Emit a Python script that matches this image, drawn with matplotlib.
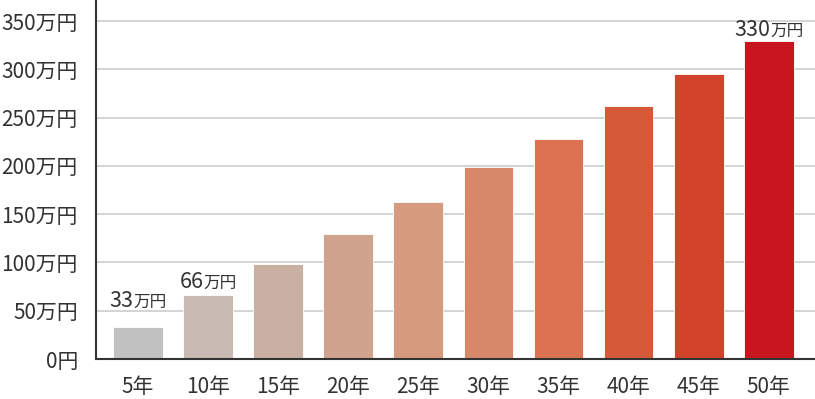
import matplotlib
matplotlib.use("Agg")
import matplotlib.pyplot as plt
import numpy as np

plt.rcParams['font.family'] = ['Noto Sans CJK JP', 'DejaVu Sans']

years = ['5年', '10年', '15年', '20年', '25年', '30年', '35年', '40年', '45年', '50年']
amounts = [33, 66, 98, 130, 163, 199, 228, 262, 295, 330]
colors = ['#c0c1c0', '#c8bbb3', '#cab0a2', '#cfa38d', '#d69a7e', '#d78868',
          '#db7352', '#d55a3a', '#d1432b', '#c8161e']
yticks = [0, 50, 100, 150, 200, 250, 300, 350]
ytick_labels = ['0円'] + ['%d万円' % v for v in yticks[1:]]

# bars that carry a value label: index -> (number text, offset in px)
labels = {0: ('33', 20), 1: ('66', 7), 9: ('330', 5)}

fig = plt.figure(figsize=(8.15, 3.99), dpi=100)
ax = fig.add_axes([96 / 815, 40 / 399, 719 / 815, 359 / 399])

x = np.arange(len(years))
ax.bar(x, amounts, width=0.71, color=colors, edgecolor='white', linewidth=0.6, zorder=2)

ax.set_ylim(0, 372)
ax.set_xlim(-0.6, 9.66)
ax.set_yticks(yticks)
ax.set_yticklabels(ytick_labels)
ax.set_xticks(x)
ax.set_xticklabels(years)
ax.tick_params(axis='y', length=0, pad=13, labelsize=15, labelcolor='#333333')
ax.tick_params(axis='x', length=0, pad=12, labelsize=15, labelcolor='#333333')
ax.grid(axis='y', color='#d4d4d4', lw=1.4, zorder=0)
for s in ['top', 'right']:
    ax.spines[s].set_visible(False)
for s in ['left', 'bottom']:
    ax.spines[s].set_color('#333333')
    ax.spines[s].set_linewidth(1.5)
ax.spines['bottom'].set_zorder(3)

fig.canvas.draw()
r = fig.canvas.get_renderer()
for i, (num, off) in labels.items():
    xd, yd = ax.transData.transform((x[i], amounts[i]))
    yd += off
    t1 = fig.text(0, yd, num, fontsize=15.5, color='#333333', va='baseline', ha='left')
    t2 = fig.text(0, yd, '万円', fontsize=12, color='#333333', va='baseline', ha='left')
    w1 = t1.get_window_extent(r).width
    w2 = t2.get_window_extent(r).width
    left = xd - (w1 + w2) / 2
    t1.set_x(left / fig.bbox.width)
    t1.set_y(yd / fig.bbox.height)
    t2.set_x((left + w1) / fig.bbox.width)
    t2.set_y(yd / fig.bbox.height)

fig.savefig('out.png', dpi=100)
